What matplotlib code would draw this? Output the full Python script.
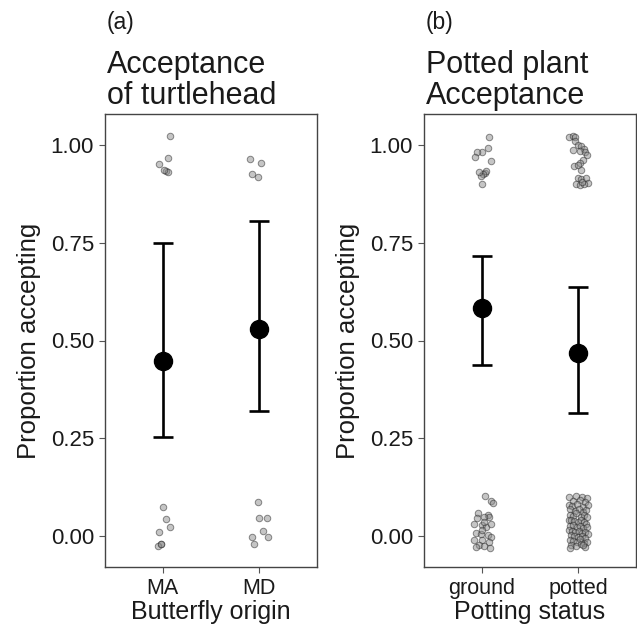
import matplotlib
matplotlib.use("Agg")
import matplotlib.pyplot as plt

plt.rcParams['font.family'] = ['Liberation Sans', 'DejaVu Sans']

# panel (a): butterfly origin
origin_cats = ['MA', 'MD']
origin_mean = [0.448, 0.529]
origin_lo = [0.254, 0.319]
origin_hi = [0.749, 0.806]
# raw 0/1 responses with jitter (x position, y value)
origin_pts_x = [1.076, 1.055, 0.958, 1.031, 1.055, 1.010,
                1.909, 2.021, 1.924, 1.986,
                1.007, 1.031, 1.070, 0.958, 0.986, 0.945, 0.979,
                1.986, 1.997, 2.080, 2.035, 1.924, 2.090, 1.948]
origin_pts_y = [1.023, 0.967, 0.952, 0.934, 0.931, 0.935,
                0.963, 0.955, 0.926, 0.919,
                0.075, 0.043, 0.022, 0.010, -0.019, -0.026, -0.020,
                0.087, 0.045, 0.045, 0.013, -0.002, -0.002, -0.019]

# panel (b): potting status
pot_cats = ['ground', 'potted']
pot_mean = [0.582, 0.469]
pot_lo = [0.437, 0.314]
pot_hi = [0.717, 0.636]
pot_pts_x = [
    # ground, accepted
    1.076, 1.066, 1.003, 0.955, 0.930, 1.097, 1.031, 1.042, 1.010, 0.990, 0.969, 1.000,
    # potted, accepted
    1.909, 1.945, 1.969, 1.969, 1.997, 2.031, 2.063, 1.945, 2.018, 2.073, 2.094, 2.049,
    2.021, 1.955, 1.997, 2.031, 1.997, 2.031, 2.083, 2.101, 1.979, 2.014, 2.063, 2.042,
    # ground, rejected
    1.034, 1.094, 1.111, 0.961, 1.059, 1.076, 1.024, 0.920, 1.007, 1.042, 1.094, 0.938,
    0.990, 1.059, 1.094, 0.920, 1.007, 1.076, 0.972, 0.938, 1.024, 1.087, 1.024, 1.007, 0.955,
    # potted, rejected
    1.906, 1.980, 2.040, 2.092, 1.950, 2.015, 2.070, 1.905, 1.935, 1.990, 2.055, 2.100,
    1.920, 1.965, 2.005, 2.045, 2.085, 1.910, 1.945, 1.975, 2.030, 2.065, 2.095, 1.900,
    1.930, 1.960, 2.000, 2.025, 2.060, 2.080, 1.915, 1.950, 1.985, 2.020, 2.050, 2.090,
    1.905, 1.940, 1.970, 2.010, 2.035, 2.075, 2.098, 1.925, 1.955, 1.995, 2.040, 2.070,
    1.910, 1.945, 1.985, 2.015, 2.060, 2.088, 1.930, 1.975, 2.030, 2.070, 1.915, 2.050,
]
pot_pts_y = [
    1.020, 0.993, 0.981, 0.981, 0.970, 0.960, 0.928, 0.933, 0.925, 0.920, 0.930, 0.899,
    1.021, 1.023, 1.020, 1.009, 1.000, 0.996, 0.990, 0.987, 0.985, 0.983, 0.973, 0.962,
    0.955, 0.946, 0.948, 0.936, 0.915, 0.912, 0.915, 0.902, 0.900, 0.898, 0.900, 0.905,
    0.102, 0.090, 0.085, 0.060, 0.055, 0.049, 0.048, 0.030, 0.028, 0.024, 0.032, 0.007,
    0.005, 0.003, -0.002, -0.010, -0.010, -0.015, -0.023, -0.027, -0.026, -0.030, 0.037, 0.015, 0.045,
    0.101, 0.103, 0.100, 0.098, 0.090, 0.092, 0.088, 0.080, 0.078, 0.082, 0.075, 0.079,
    0.068, 0.065, 0.070, 0.062, 0.066, 0.055, 0.052, 0.058, 0.050, 0.054, 0.048, 0.042,
    0.040, 0.038, 0.035, 0.041, 0.036, 0.030, 0.026, 0.028, 0.022, 0.025, 0.020, 0.024,
    0.015, 0.012, 0.010, 0.014, 0.008, 0.011, 0.005, 0.002, 0.000, -0.003, 0.001, -0.005,
    -0.010, -0.012, -0.015, -0.008, -0.018, -0.014, -0.022, -0.025, -0.020, -0.028, -0.030, -0.024,
]

W, H = 637, 630
fig = plt.figure(figsize=(W / 100, H / 100), dpi=100)


def panel(left, cats, mean, lo, hi, px, py, xlabel, tag, title):
    ax = fig.add_axes([left / W, (H - 567) / H, 212 / W, 453 / H])
    xs = list(range(1, len(cats) + 1))
    ax.scatter(px, py, s=22, c='#8c8c8c', edgecolors='#222222',
               linewidths=0.7, alpha=0.5, zorder=2)
    err = [[m - l for m, l in zip(mean, lo)], [h - m for m, h in zip(mean, hi)]]
    ax.errorbar(xs, mean, yerr=err, fmt='o', color='black', ms=13,
                elinewidth=1.9, capsize=7.2, capthick=1.9, zorder=3)
    ax.set_xlim(0.4, 2.6)
    ax.set_ylim(-0.079, 1.079)
    ax.set_xticks(xs)
    ax.set_xticklabels(cats)
    ax.set_yticks([0, 0.25, 0.5, 0.75, 1.0])
    ax.set_yticklabels(['0.00', '0.25', '0.50', '0.75', '1.00'])
    ax.tick_params(axis='y', labelsize=16, length=4, width=0.8,
                   color='#555555', labelcolor='#1a1a1a', pad=4)
    ax.tick_params(axis='x', labelsize=15.5, length=4, width=0.8,
                   color='#555555', labelcolor='#1a1a1a', pad=4)
    for s in ax.spines.values():
        s.set_color('#444444')
        s.set_linewidth(1.0)
    ax.set_xlabel(xlabel, fontsize=18, color='#1a1a1a', labelpad=1)
    ax.set_ylabel('Proportion accepting', fontsize=18.5, color='#1a1a1a', labelpad=7)
    fig.text((left + 2) / W, 1 - 29 / H, tag, fontsize=16.5, color='#1a1a1a')
    fig.text((left + 2) / W, 1 - 104 / H, title, fontsize=22, color='#1a1a1a',
             linespacing=1.05)
    return ax


panel(105, origin_cats, origin_mean, origin_lo, origin_hi,
      origin_pts_x, origin_pts_y, 'Butterfly origin', '(a)',
      'Acceptance\nof turtlehead')
panel(424, pot_cats, pot_mean, pot_lo, pot_hi,
      pot_pts_x, pot_pts_y, 'Potting status', '(b)',
      'Potted plant\nAcceptance')

fig.savefig('out.png', dpi=100)
